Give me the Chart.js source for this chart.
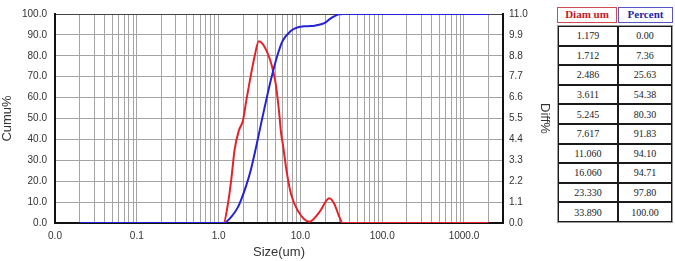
<!DOCTYPE html>
<html>
<head>
<meta charset="utf-8">
<script src="https://cdn.jsdelivr.net/npm/chart.js@4.4.1/dist/chart.umd.min.js"></script>
<style>
  html, body { margin: 0; padding: 0; background: #fff; }
  body { width: 675px; height: 261px; position: relative; overflow: hidden; font-family: "Liberation Sans", Arial, sans-serif; }
  #chartBox { position: absolute; left: 0; top: 0; width: 552px; height: 261px; }
  .head { position: absolute; top: 7px; height: 14px; line-height: 14px; text-align: center; font: bold 11px "Liberation Serif", "Times New Roman", serif; background: #fff; }
  .head.diam { left: 557px; width: 58px; color: #c8161e; border: 1px solid #d04a50; }
  .head.pct { left: 618px; width: 53px; color: #2424a6; border: 1px solid #5656c4; }
  table.psd { position: absolute; left: 557px; top: 25px; width: 116px; height: 198px; border: 1px solid #9a9a9a; border-collapse: separate; border-spacing: 0; font: 10px "Liberation Serif", "Times New Roman", serif; color: #222; }
  table.psd td { border: 1px solid #1a1a1a; text-align: center; padding: 0; }
  table.psd td:first-child { width: 58px; }
</style>
</head>
<body>
<div id="chartBox"><canvas id="psdChart"></canvas></div>
<div class="head diam">Diam um</div>
<div class="head pct">Percent</div>
<table class="psd" id="psdTable"></table>
<script>
// table on the right
const tableDiam = ['1.179', '1.712', '2.486', '3.611', '5.245', '7.617', '11.060', '16.060', '23.330', '33.890'];
const tablePercent = ['0.00', '7.36', '25.63', '54.38', '80.30', '91.83', '94.10', '94.71', '97.80', '100.00'];

// cumulative curve (blue, left axis)
const cumSizes = [0.02, 1.179, 1.24, 1.43, 1.712, 1.89, 2.18, 2.486, 2.88, 3.32, 3.611, 4.39, 5.245, 6.08, 7.617, 8.45, 11.06, 13.4, 16.06, 19.6, 23.33, 29.9, 33.89, 2000];
const cumValues = [0, 0, 0.5, 2.9, 7.36, 11.2, 18.0, 25.63, 36.5, 47.8, 54.38, 69.0, 80.30, 87.2, 91.83, 93.0, 94.10, 94.2, 94.71, 95.6, 97.80, 99.9, 100, 100];

// differential curve (red, right axis)
const diffSizes = [0.02, 1.15, 1.30, 1.43, 1.57, 1.77, 1.98, 2.17, 2.39, 2.75, 3.10, 3.47, 3.99, 4.39, 4.96, 5.43, 5.82, 6.08, 6.81, 7.71, 9.27, 12.88, 17.06, 22.58, 26.0, 29.9, 32.8, 2000];
const diffValues = [0, 0, 1.0, 2.3, 3.86, 4.87, 5.37, 6.39, 7.4, 8.75, 9.56, 9.42, 8.92, 8.41, 7.4, 6.05, 4.7, 4.2, 2.68, 1.5, 0.66, 0.07, 0.57, 1.3, 1.0, 0.32, 0, 0];

// axis ticks
const sizeDecades = [0.01, 0.1, 1, 10, 100, 1000];
const cumuTicks = [0, 10, 20, 30, 40, 50, 60, 70, 80, 90, 100];
const diffTicks = [0, 1.1, 2.2, 3.3, 4.4, 5.5, 6.6, 7.7, 8.8, 9.9, 11];

const tbl = document.getElementById('psdTable');
tableDiam.forEach((d, i) => {
  const tr = document.createElement('tr');
  tr.innerHTML = `<td>${d}</td><td>${tablePercent[i]}</td>`;
  tbl.appendChild(tr);
});

// minor grid lines: 1..9 in every decade up to 3000
const sizeGrid = [];
sizeDecades.forEach((d) => {
  for (let m = 1; m <= 9; m++) {
    const v = m === 1 ? d : d * m;
    if (v <= 3000) sizeGrid.push(v);
  }
});
sizeGrid.push(3000);

const gridColor = '#a4a4a4';
const textColor = '#333';

new Chart(document.getElementById('psdChart').getContext('2d'), {
  type: 'line',
  data: {
    datasets: [
      {
        label: 'Cumu%',
        data: cumSizes.map((s, i) => ({ x: s, y: cumValues[i] })),
        yAxisID: 'y',
        borderColor: '#2424d6',
        borderWidth: 2,
        pointRadius: 0,
        fill: false,
        cubicInterpolationMode: 'monotone',
      },
      {
        label: 'Diff%',
        data: diffSizes.map((s, i) => ({ x: s, y: diffValues[i] })),
        yAxisID: 'y1',
        borderColor: '#e4222a',
        borderWidth: 2,
        pointRadius: 0,
        fill: false,
        cubicInterpolationMode: 'monotone',
      },
    ],
  },
  options: {
    responsive: true,
    maintainAspectRatio: false,
    animation: false,
    layout: { padding: { top: 5, left: 0, right: 0, bottom: 0 } },
    plugins: { legend: { display: false }, tooltip: { enabled: false } },
    scales: {
      x: {
        type: 'logarithmic',
        min: 0.01,
        max: 3000,
        afterBuildTicks: (s) => { s.ticks = sizeGrid.map((v) => ({ value: v })); },
        afterFit: (s) => { s.height = 38; },
        ticks: {
          autoSkip: false,
          maxRotation: 0,
          minRotation: 0,
          padding: 7,
          color: textColor,
          font: { size: 10, family: 'Liberation Sans' },
          callback: (v) => (sizeDecades.includes(v) ? v.toFixed(1) : ''),
        },
        grid: { color: gridColor, lineWidth: 1, drawTicks: false },
        border: { color: '#111', width: 2 },
        title: { display: true, text: 'Size(um)', color: textColor, font: { size: 13, family: 'Liberation Sans' }, padding: { top: 0, bottom: 1 } },
      },
      y: {
        position: 'left',
        min: 0,
        max: 100,
        afterBuildTicks: (s) => { s.ticks = cumuTicks.map((v) => ({ value: v })); },
        afterFit: (s) => { s.width = 55; },
        ticks: {
          padding: 8,
          color: textColor,
          font: { size: 10, family: 'Liberation Sans' },
          callback: (v) => v.toFixed(1),
        },
        grid: {
          color: (ctx) => (ctx.tick && ctx.tick.value === 100 ? '#444' : gridColor),
          lineWidth: 1,
          drawTicks: false,
        },
        border: { color: '#111', width: 2 },
        title: { display: true, text: 'Cumu%', color: textColor, font: { size: 13, family: 'Liberation Sans' }, padding: 0 },
      },
      y1: {
        position: 'right',
        min: 0,
        max: 11,
        afterBuildTicks: (s) => { s.ticks = diffTicks.map((v) => ({ value: v })); },
        afterFit: (s) => { s.width = 49; },
        ticks: {
          padding: 6,
          color: textColor,
          font: { size: 10, family: 'Liberation Sans' },
          callback: (v) => v.toFixed(1),
        },
        grid: { drawOnChartArea: false, drawTicks: false },
        border: { color: '#111', width: 2 },
        title: { display: true, text: 'Diff%', color: textColor, font: { size: 13, family: 'Liberation Sans' }, padding: 0 },
      },
    },
  },
});
</script>
</body>
</html>
